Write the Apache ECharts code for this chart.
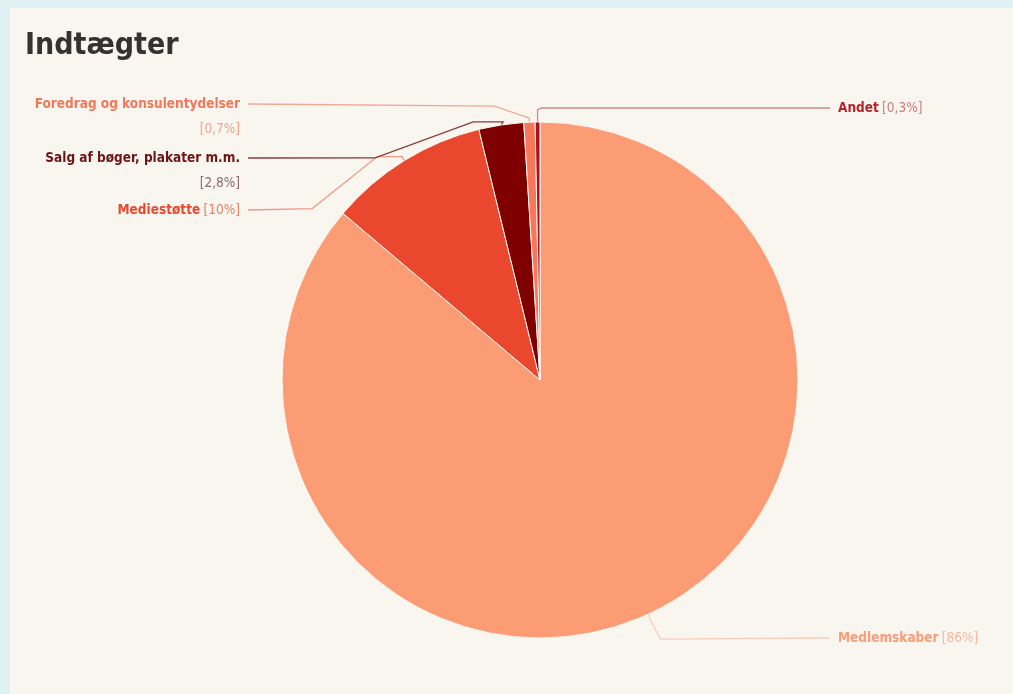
<!DOCTYPE html>
<html>
<head>
<meta charset="utf-8">
<script src="https://cdn.jsdelivr.net/npm/echarts@6/dist/echarts.min.js"></script>
<style>
  html, body { margin: 0; padding: 0; width: 1013px; height: 694px; background: #e0f1f3; overflow: hidden; }
  #card { position: absolute; left: 10px; top: 8px; width: 1003px; height: 686px; background: #f9f6ef; }
  #chart { position: absolute; left: 0; top: 0; width: 1013px; height: 694px; }
</style>
</head>
<body>
<div id="card"></div>
<div id="chart"></div>
<script>
// ---- data ----
const categories = ['Medlemskaber', 'Mediestøtte', 'Salg af bøger, plakater m.m.', 'Foredrag og konsulentydelser', 'Andet'];
const values = [86, 10, 2.8, 0.7, 0.3];
const valueLabels = ['86%', '10%', '2,8%', '0,7%', '0,3%'];
const sliceColors = ['#fc9c74', '#e9482f', '#7f0000', '#f7775a', '#a8141c'];
const nameColors = ['#fb9c76', '#e9482f', '#6e1414', '#f2785c', '#b8222a'];
const valueColors = ['#f7b89c', '#ec7f66', '#8a6a66', '#f3a48f', '#c97d80'];
const lineColors = ['#f6cdbb', '#ee9a86', '#8a3a3a', '#f1a893', '#c98a8a'];
const twoLine = [false, false, true, true, false];

// ---- label layout (positions of texts and elbows of connector lines) ----
const labelPlace = [
  { side: 'right', x: 838, y: 638, elbows: [[2, 7], [12, 25]] },
  { side: 'left', x: 240, y: 210, elbows: [[-2, -4], [-27, -4], [-92, 48]] },
  { side: 'left', x: 240, y: 158, elbows: [[2, -3], [-28, -3], [-126, 33]] },
  { side: 'left', x: 240, y: 104, elbows: [[0, -4], [-35, -16]] },
  { side: 'right', x: 838, y: 108, elbows: [[0, -2], [0, -12], [4, -14]] }
];

const data = categories.map((c, i) => ({
  name: c,
  value: values[i],
  itemStyle: { color: sliceColors[i] },
  labelLine: { lineStyle: { color: lineColors[i] } }
}));

const chart = echarts.init(document.getElementById('chart'), null, { renderer: 'canvas' });

const rich = {};
categories.forEach((c, i) => {
  rich['n' + i] = { fontFamily: 'DejaVu Sans Condensed, DejaVu Sans', fontWeight: 'bold', fontSize: 13.5, color: nameColors[i], lineHeight: 25, align: labelPlace[i].side === 'left' ? 'right' : 'left' };
  rich['v' + i] = { fontFamily: 'DejaVu Sans Condensed, DejaVu Sans', fontWeight: 'normal', fontSize: 13.5, color: valueColors[i], lineHeight: 25, align: labelPlace[i].side === 'left' ? 'right' : 'left' };
});

chart.setOption({
  animation: false,
  backgroundColor: 'transparent',
  title: {
    text: 'Indtægter',
    left: 20,
    top: 26,
    textStyle: { fontFamily: 'DejaVu Sans Condensed, DejaVu Sans', fontWeight: 'bold', fontSize: 30, color: '#333333' }
  },
  series: [{
    type: 'pie',
    center: [540, 380],
    radius: 258,
    startAngle: 90,
    clockwise: true,
    avoidLabelOverlap: false,
    itemStyle: { borderColor: '#fdf8f3', borderWidth: 1 },
    label: {
      show: true,
      formatter: function (p) {
        const i = p.dataIndex;
        return twoLine[i]
          ? '{n' + i + '|' + p.name + '}\n{v' + i + '|[' + valueLabels[i] + ']}'
          : '{n' + i + '|' + p.name + '} {v' + i + '|[' + valueLabels[i] + ']}';
      },
      rich: rich
    },
    labelLine: { show: true, length: 20, length2: 20, lineStyle: { width: 1.3 } },
    labelLayout: function (params) {
      const i = params.dataIndex;
      const lp = labelPlace[i];
      const edge = params.labelLinePoints ? params.labelLinePoints[0] : [540, 122];
      const pts = [[edge[0], edge[1]]];
      lp.elbows.forEach(e => pts.push([edge[0] + e[0], edge[1] + e[1]]));
      const endX = lp.side === 'left' ? lp.x + 8 : lp.x - 8;
      pts.push([endX, lp.y]);
      return {
        x: lp.x,
        y: lp.y - 12.5,
        align: lp.side === 'left' ? 'right' : 'left',
        verticalAlign: 'top',
        labelLinePoints: pts
      };
    },
    data: data
  }]
});
</script>
</body>
</html>
